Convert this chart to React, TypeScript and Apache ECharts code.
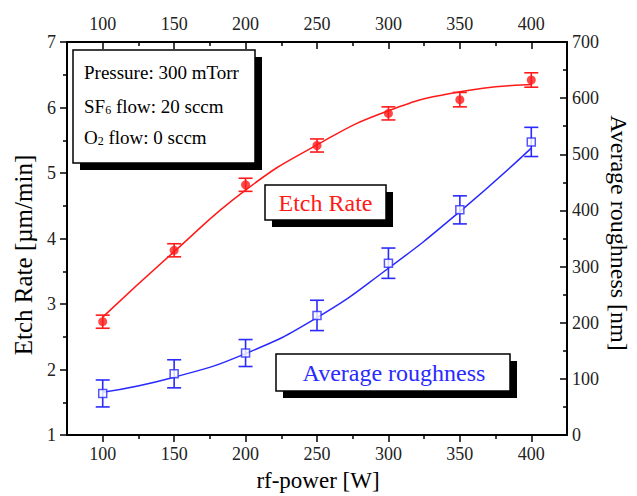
import React, { useEffect, useRef } from "react";
import * as echarts from "echarts";

const powers = [100, 150, 200, 250, 300, 350, 400];
const etchRate = [2.73, 3.82, 4.82, 5.42, 5.91, 6.12, 6.42];
const etchErr = [0.1, 0.1, 0.1, 0.1, 0.1, 0.11, 0.11];
const etchFit = [2.8, 3.8, 4.74, 5.43, 5.95, 6.24, 6.35];
const roughness = [74, 109, 146, 213, 306, 401, 522];
const roughErr = [24, 25, 24, 27, 27, 25, 26];
const roughFit = [76, 103, 145, 209, 297, 398, 511];
const majorX = [100, 150, 200, 250, 300, 350, 400];
const minorX = [125, 175, 225, 275, 325, 375];

const FONT = "'Liberation Serif', 'DejaVu Serif', serif";
const RED = "#ff1a1a";
const BLUE = "#2a2aff";

function errorSeries(vals: number[], errs: number[], yAxisIndex: number, color: string) {
  return {
    type: "custom",
    xAxisIndex: 0,
    yAxisIndex,
    z: 3,
    silent: true,
    data: powers.map((p, i) => [p, vals[i], errs[i]]),
    renderItem: (params: any, api: any) => {
      const x = api.value(0);
      const y = api.value(1);
      const e = api.value(2);
      const top = api.coord([x, y + e]);
      const bot = api.coord([x, y - e]);
      const hw = 7;
      const style = { stroke: color, lineWidth: 1.6 };
      return {
        type: "group",
        children: [
          { type: "line", shape: { x1: top[0], y1: top[1], x2: bot[0], y2: bot[1] }, style },
          { type: "line", shape: { x1: top[0] - hw, y1: top[1], x2: top[0] + hw, y2: top[1] }, style },
          { type: "line", shape: { x1: bot[0] - hw, y1: bot[1], x2: bot[0] + hw, y2: bot[1] }, style },
        ],
      };
    },
  };
}

function box(x: number, y: number, w: number, h: number, off: number) {
  return [
    { type: "rect", shape: { x: x + off, y: y + off, width: w, height: h }, style: { fill: "#000" }, z: 10 },
    { type: "rect", shape: { x, y, width: w, height: h }, style: { fill: "#fff", stroke: "#000", lineWidth: 1.5 }, z: 11 },
  ];
}

export default function App() {
  const ref = useRef<HTMLDivElement>(null);
  useEffect(() => {
    if (!ref.current) return;
    const chart = echarts.init(ref.current, undefined, { renderer: "svg" });
    const axisLine = { show: true, lineStyle: { color: "#000", width: 2 } };
    const labelStyle = { fontFamily: FONT, fontSize: 18, color: "#222" };
    chart.setOption({
      animation: false,
      backgroundColor: "#fff",
      grid: { left: 67, top: 42, right: 70, bottom: 61, containLabel: false },
      xAxis: [
        {
          type: "value", position: "bottom", min: 75, max: 425,
          axisLine, splitLine: { show: false },
          axisTick: { show: true, inside: false, length: 7, customValues: majorX, lineStyle: { color: "#000", width: 1.5 } },
          axisLabel: { ...labelStyle, margin: 10, customValues: majorX },
        },
        {
          type: "value", position: "top", min: 75, max: 425,
          axisLine, splitLine: { show: false },
          axisTick: { show: true, inside: true, length: 7, customValues: majorX, lineStyle: { color: "#000", width: 1.5 } },
          axisLabel: { ...labelStyle, margin: 9, customValues: majorX },
        },
        {
          type: "value", position: "bottom", min: 75, max: 425,
          axisLine: { show: false }, splitLine: { show: false }, axisLabel: { show: false },
          axisTick: { show: true, inside: false, length: 4, customValues: minorX, lineStyle: { color: "#000", width: 1.5 } },
        },
        {
          type: "value", position: "top", min: 75, max: 425,
          axisLine: { show: false }, splitLine: { show: false }, axisLabel: { show: false },
          axisTick: { show: true, inside: true, length: 4, customValues: minorX, lineStyle: { color: "#000", width: 1.5 } },
        },
      ],
      yAxis: [
        {
          type: "value", position: "left", min: 1, max: 7, interval: 1,
          axisLine, splitLine: { show: false },
          axisTick: { show: true, inside: false, length: 7, lineStyle: { color: "#000", width: 1.5 } },
          minorTick: { show: true, splitNumber: 2, length: 4, lineStyle: { color: "#000", width: 1.5 } },
          minorSplitLine: { show: false },
          axisLabel: { ...labelStyle, margin: 11 },
        },
        {
          type: "value", position: "right", min: 0, max: 700, interval: 100,
          axisLine, splitLine: { show: false },
          axisTick: { show: true, inside: true, length: 7, lineStyle: { color: "#000", width: 1.5 } },
          minorTick: { show: true, splitNumber: 2, length: 4, lineStyle: { color: "#000", width: 1.5 } },
          minorSplitLine: { show: false },
          axisLabel: { ...labelStyle, margin: 5 },
        },
      ],
      series: [
        {
          type: "line", name: "Etch Rate fit", xAxisIndex: 0, yAxisIndex: 0, smooth: 0.5,
          showSymbol: false, symbol: "none", data: powers.map((p, i) => [p, etchFit[i]]),
          lineStyle: { color: RED, width: 1.5 }, z: 2,
        },
        {
          type: "line", name: "Average roughness fit", xAxisIndex: 0, yAxisIndex: 1, smooth: 0.5,
          showSymbol: false, symbol: "none", data: powers.map((p, i) => [p, roughFit[i]]),
          lineStyle: { color: BLUE, width: 1.5 }, z: 2,
        },
        errorSeries(etchRate, etchErr, 0, RED),
        errorSeries(roughness, roughErr, 1, BLUE),
        {
          type: "scatter", name: "Etch Rate", xAxisIndex: 0, yAxisIndex: 0,
          symbol: "circle", symbolSize: 9, data: powers.map((p, i) => [p, etchRate[i]]),
          itemStyle: { color: RED }, z: 4,
        },
        {
          type: "scatter", name: "Average roughness", xAxisIndex: 0, yAxisIndex: 1,
          symbol: "rect", symbolSize: 8, data: powers.map((p, i) => [p, roughness[i]]),
          itemStyle: { color: "#fff", borderColor: BLUE, borderWidth: 1.5 }, z: 4,
        },
      ],
      graphic: [
        ...box(73, 50, 182, 113, 7),
        {
          type: "text", x: 84, y: 72, z: 12,
          style: { text: "Pressure: 300 mTorr", font: `19px ${FONT}`, fill: "#000", verticalAlign: "middle" },
        },
        {
          type: "text", x: 84, y: 106, z: 12,
          style: {
            text: "SF{sub|6} flow: 20 sccm", font: `19px ${FONT}`, fill: "#000", verticalAlign: "middle",
            rich: { sub: { fontSize: 12, fontFamily: FONT, verticalAlign: "bottom", padding: [8, 0, 0, 0], fill: "#000" } },
          },
        },
        {
          type: "text", x: 84, y: 137, z: 12,
          style: {
            text: "O{sub|2} flow: 0 sccm", font: `19px ${FONT}`, fill: "#000", verticalAlign: "middle",
            rich: { sub: { fontSize: 12, fontFamily: FONT, verticalAlign: "bottom", padding: [8, 0, 0, 0], fill: "#000" } },
          },
        },
        ...box(265, 185, 121, 35, 7),
        {
          type: "text", x: 325.5, y: 203, z: 12,
          style: { text: "Etch Rate", font: `24px ${FONT}`, fill: RED, align: "center", verticalAlign: "middle" },
        },
        ...box(276, 354, 234, 37, 7),
        {
          type: "text", x: 394, y: 373, z: 12,
          style: { text: "Average roughness", font: `24px ${FONT}`, fill: BLUE, align: "center", verticalAlign: "middle" },
        },
        {
          type: "text", x: 318, y: 480, z: 12,
          style: { text: "rf-power [W]", font: `23px ${FONT}`, fill: "#000", align: "center", verticalAlign: "middle" },
        },
        {
          type: "text", x: 23, y: 255, rotation: Math.PI / 2, z: 12,
          style: { text: "Etch Rate [µm/min]", font: `25px ${FONT}`, fill: "#000", align: "center", verticalAlign: "middle" },
        },
        {
          type: "text", x: 619, y: 233, rotation: -Math.PI / 2, z: 12,
          style: { text: "Average roughness [nm]", font: `24px ${FONT}`, fill: "#000", align: "center", verticalAlign: "middle" },
        },
      ],
    });
    return () => chart.dispose();
  }, []);
  return (
    <div
      ref={ref}
      style={{ position: "fixed", left: 0, top: 0, width: 637, height: 496, background: "#fff" }}
    />
  );
}
